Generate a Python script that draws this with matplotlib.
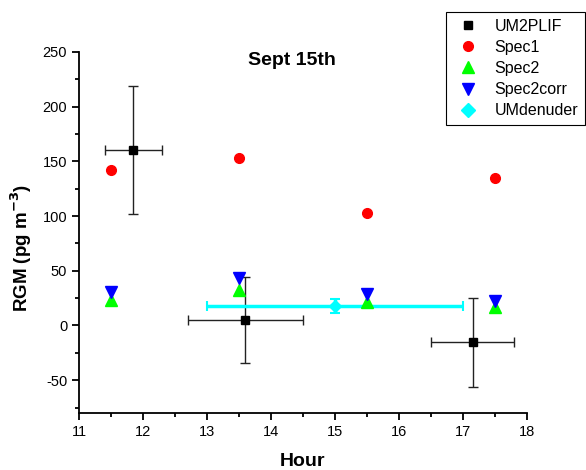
import numpy as np
import matplotlib
matplotlib.use('Agg')
import matplotlib.pyplot as plt
from matplotlib.ticker import MultipleLocator
from matplotlib.lines import Line2D

plt.rcParams['font.family'] = ['Liberation Sans', 'DejaVu Sans']
plt.rcParams['axes.unicode_minus'] = False

# UM2PLIF with error bars
plif_x    = [11.85, 13.6, 17.15]
plif_y    = [160, 5, -15.5]
plif_xerr = [0.45, 0.9, 0.65]
plif_yerr = [58.5, 39, 41]

# spectrometer points
spec_x     = [11.5, 13.5, 15.5, 17.5]
spec1      = [142, 153, 103, 135]
spec2      = [23, 32, 21, 17]
spec2corr  = [31, 43, 29, 22]

# UMdenuder
den_x    = [15.0]
den_y    = [18]
den_xerr = [2.0]
den_yerr = [6.5]

fig = plt.figure(figsize=(5.86, 4.7), dpi=100)
ax = fig.add_axes([0.1348, 0.1213, 0.7645, 0.7681])

ax.errorbar(plif_x, plif_y, xerr=plif_xerr, yerr=plif_yerr, fmt='s', color='black',
            ecolor='#222222', elinewidth=1, capsize=3.5, capthick=1, markersize=6,
            zorder=3)
ax.plot(spec_x, spec1, 'o', color='red', markersize=7, zorder=4)
ax.plot(spec_x, spec2, '^', color='#00ff00', markersize=8, zorder=4)
ax.plot(spec_x, spec2corr, 'v', color='blue', markersize=8, zorder=4)
ax.errorbar(den_x, den_y, xerr=den_xerr, yerr=den_yerr, fmt='D', color='cyan',
            ecolor='cyan', elinewidth=2.5, capsize=3.5, capthick=1.5, markersize=6,
            zorder=3)

ax.set_xlim(11, 18)
ax.set_ylim(-80, 250)
ax.xaxis.set_major_locator(MultipleLocator(1))
ax.xaxis.set_minor_locator(MultipleLocator(0.5))
ax.yaxis.set_major_locator(MultipleLocator(50))
ax.yaxis.set_minor_locator(MultipleLocator(25))

for s in ['top', 'right']:
    ax.spines[s].set_visible(False)
for s in ['left', 'bottom']:
    ax.spines[s].set_linewidth(1.3)

ax.tick_params(which='major', direction='out', length=5, width=1.3, labelsize=10.5)
ax.tick_params(which='minor', direction='out', length=3, width=1.3)

ax.set_xlabel('Hour', fontsize=14, fontweight='bold', labelpad=10)
ax.set_ylabel('RGM (pg m$^{\\mathbf{-3}}$)', fontsize=13.5, fontweight='bold')
ax.yaxis.set_label_coords(-0.100, 0.458)
ax.text(0.475, 1.0, 'Sept 15th', transform=ax.transAxes, ha='center', va='top',
        fontsize=14, fontweight='bold')

handles = [
    Line2D([], [], ls='none', marker='s', color='black', markersize=6),
    Line2D([], [], ls='none', marker='o', color='red', markersize=7),
    Line2D([], [], ls='none', marker='^', color='#00ff00', markersize=8),
    Line2D([], [], ls='none', marker='v', color='blue', markersize=8),
    Line2D([], [], ls='none', marker='D', color='cyan', markersize=7),
]
labels = ['UM2PLIF', 'Spec1', 'Spec2', 'Spec2corr', 'UMdenuder']
leg = fig.legend(handles, labels, loc='upper right', bbox_to_anchor=(0.999, 0.975),
                 borderaxespad=0, fontsize=11.5, fancybox=False, edgecolor='black',
                 framealpha=1, handletextpad=0.7, handlelength=1.9, borderpad=0.45,
                 labelspacing=0.38)
leg.get_frame().set_linewidth(0.8)

fig.savefig('out.png', dpi=100)
